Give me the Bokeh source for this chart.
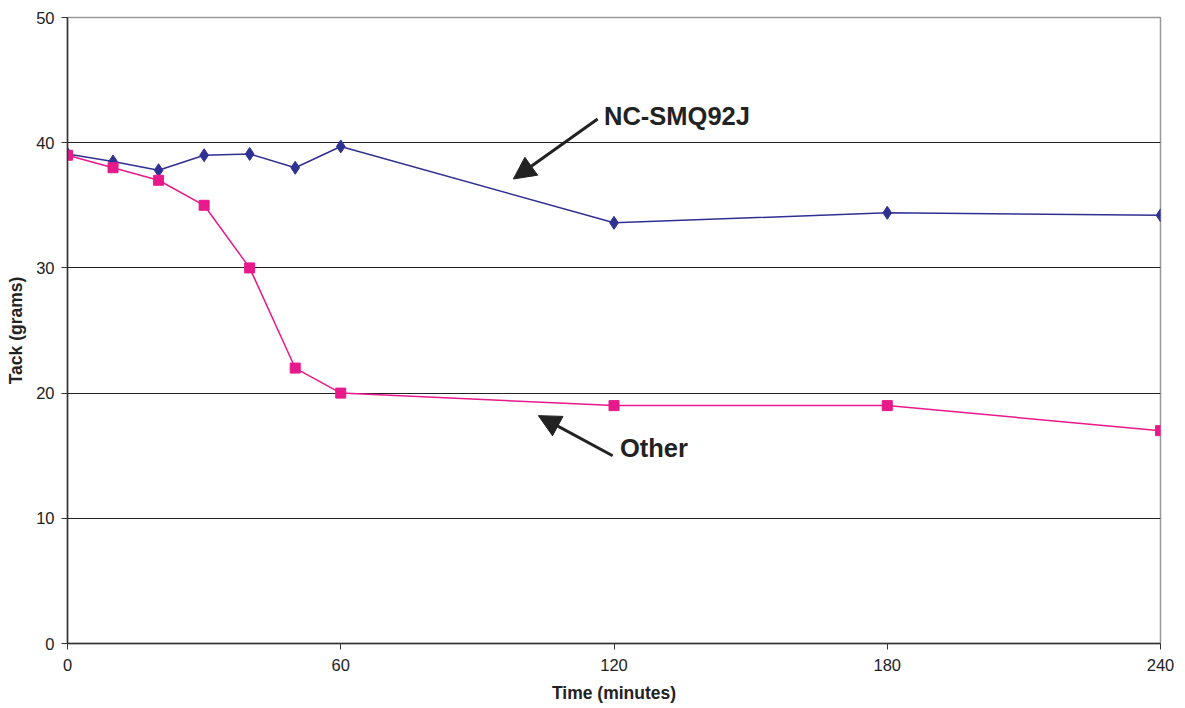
from bokeh.plotting import figure
from bokeh.models import Arrow, NormalHead, Label, FixedTicker, Range1d
from bokeh.embed import file_html
from bokeh.resources import INLINE

time_min = [0, 10, 20, 30, 40, 50, 60, 120, 180, 240]
nc_smq92j = [39.1, 38.5, 37.8, 39.0, 39.1, 38.0, 39.7, 33.6, 34.4, 34.2]
other = [39.0, 38.0, 37.0, 35.0, 30.0, 22.0, 20.0, 19.0, 19.0, 17.0]
x_ticks = [0, 60, 120, 180, 240]
y_ticks = [0, 10, 20, 30, 40, 50]

FONT = "Liberation Sans"
BLUE = "#2E3192"
PINK = "#E8198B"

p = figure(width=1180, height=708, output_backend="svg", toolbar_location=None,
           x_range=Range1d(0, 240), y_range=Range1d(0, 50),
           min_border_left=67, min_border_top=17, min_border_right=20, min_border_bottom=65)
p.outline_line_color = "#999999"
p.outline_line_width = 1.5

p.xgrid.visible = False
p.ygrid.ticker = FixedTicker(ticks=[10, 20, 30, 40])
p.ygrid.grid_line_color = "#222222"
p.ygrid.grid_line_width = 1

for ax, ticks in ((p.xaxis[0], x_ticks), (p.yaxis[0], y_ticks)):
    ax.ticker = FixedTicker(ticks=ticks)
    ax.minor_tick_line_color = None
    ax.major_tick_in = 0
    ax.major_tick_out = 6
    ax.axis_line_color = "#333333"
    ax.axis_line_width = 1.5
    ax.major_tick_line_color = "#333333"
    ax.major_label_text_font = FONT
    ax.major_label_text_font_size = "16.5px"
    ax.major_label_text_color = "#222222"
    ax.axis_label_text_font = FONT
    ax.axis_label_text_font_style = "bold"
    ax.axis_label_text_font_size = "17.5px"
    ax.axis_label_text_color = "#222222"

p.xaxis.axis_label = "Time (minutes)"
p.yaxis.axis_label = "Tack (grams)"
p.xaxis.major_label_standoff = 9
p.yaxis.major_label_standoff = 7
p.xaxis.axis_label_standoff = 9
p.yaxis.axis_label_standoff = 7

p.line(time_min, nc_smq92j, line_color=BLUE, line_width=1.5)
p.scatter(time_min, nc_smq92j, marker="diamond", size=13, fill_color=BLUE, line_color=BLUE)
p.line(time_min, other, line_color=PINK, line_width=1.5)
p.scatter(time_min, other, marker="square", size=10, fill_color=PINK, line_color=PINK)

p.add_layout(Arrow(x_start=116.4, y_start=41.9, x_end=97.9, y_end=37.1,
                   line_color="#222222", line_width=3,
                   end=NormalHead(size=22, fill_color="#222222", line_color="#222222")))
p.add_layout(Arrow(x_start=119.7, y_start=15.0, x_end=103.4, y_end=18.2,
                   line_color="#222222", line_width=3,
                   end=NormalHead(size=22, fill_color="#222222", line_color="#222222")))

p.add_layout(Label(x=117.8, y=42.1, text="NC-SMQ92J", text_font=FONT, text_font_style="bold",
                   text_font_size="25.5px", text_color="#222222", text_baseline="middle"))
p.add_layout(Label(x=121.3, y=15.6, text="Other", text_font=FONT, text_font_style="bold",
                   text_font_size="25.5px", text_color="#222222", text_baseline="middle"))

open("out.html", "w").write(file_html(p, INLINE))
